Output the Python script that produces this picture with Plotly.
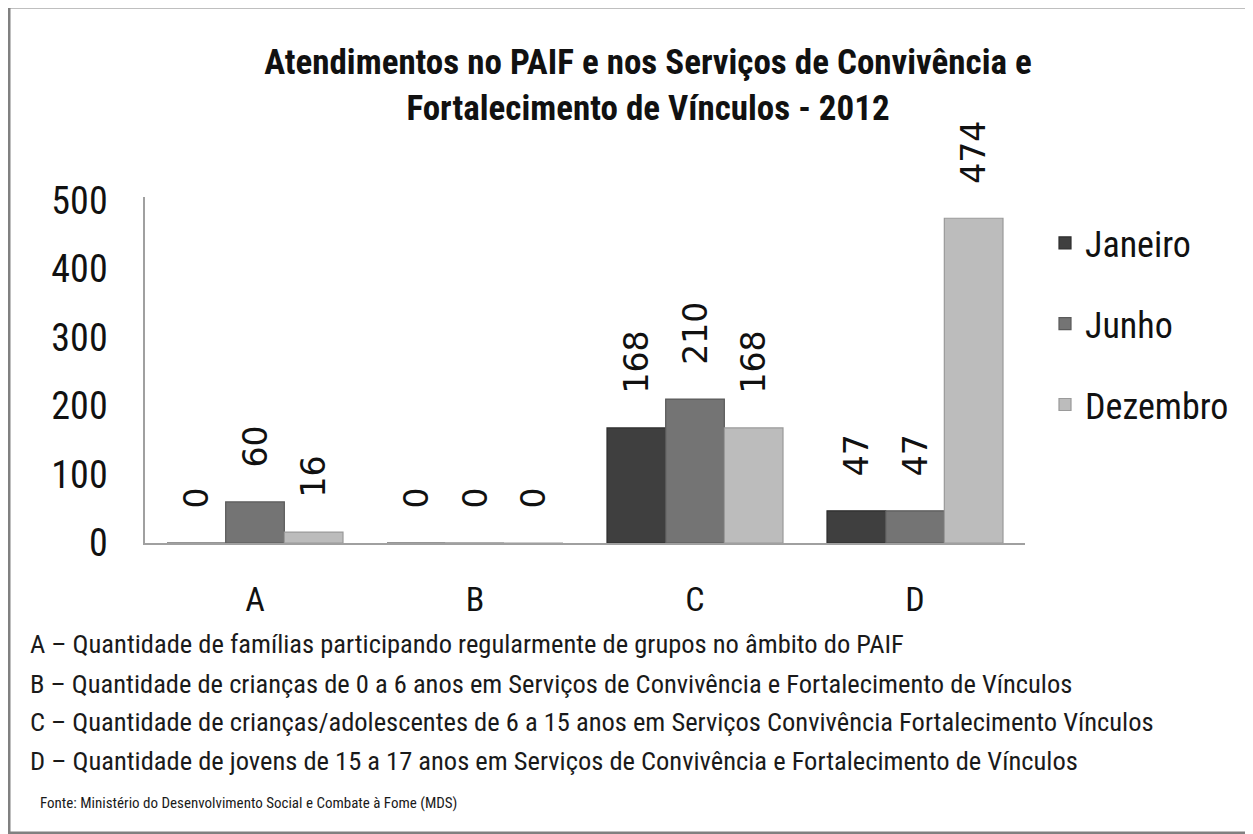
import plotly.graph_objects as go

categories = ["A", "B", "C", "D"]
series_names = ["Janeiro", "Junho", "Dezembro"]
janeiro = [0, 0, 168, 47]
junho = [60, 0, 210, 47]
dezembro = [16, 0, 168, 474]
y_ticks = [0, 100, 200, 300, 400, 500]

footnotes = [
    "A – Quantidade de famílias participando regularmente de grupos no âmbito do PAIF",
    "B – Quantidade de crianças de 0 a 6 anos em Serviços de Convivência e Fortalecimento de Vínculos",
    "C – Quantidade de crianças/adolescentes de 6 a 15 anos em Serviços Convivência Fortalecimento Vínculos",
    "D – Quantidade de jovens de 15 a 17 anos em Serviços de Convivência e Fortalecimento de Vínculos",
]
source = "Fonte: Ministério do Desenvolvimento Social e Combate à Fome (MDS)"

NARROW = "Liberation Sans Narrow, Roboto Condensed, Arial Narrow, sans-serif"
colors = ["#3f3f3f", "#747474", "#bcbcbc"]
outlines = ["#2e2e2e", "#5a5a5a", "#9a9a9a"]

fig = go.Figure()
for i, (name, vals) in enumerate(zip(series_names, [janeiro, junho, dezembro])):
    fig.add_trace(go.Bar(
        x=categories, y=vals, name=name,
        marker=dict(color=colors[i], line=dict(color=outlines[i], width=1.2)),
        text=["\u00a0\u00a0\u00a0" + str(v) for v in vals],
        textposition="outside", textangle=-90, constraintext="none",
        textfont=dict(family="DejaVu Sans", size=33, color="#111111"),
        cliponaxis=False,
        legendgroup=name,
    ))

OFF = 8  # page body margin
W, H = 1253 - OFF, 834 - OFF
L, R, T, B = 145 - OFF, 228, 197 - OFF, 291
pw, ph = W - L - R, H - T - B

def px_x(px):
    return (px - OFF - L) / pw

def px_y(py):
    return (H - B - (py - OFF)) / ph

annotations = []
for txt, py in zip(footnotes, [643, 683, 721, 760]):
    annotations.append(dict(text=txt, xref="paper", yref="paper", x=px_x(28), y=px_y(py),
                            xanchor="left", yanchor="middle", showarrow=False,
                            font=dict(family=NARROW, size=26.5, color="#1a1a1a")))
annotations.append(dict(text=source, xref="paper", yref="paper", x=px_x(38), y=px_y(803),
                        xanchor="left", yanchor="middle", showarrow=False,
                        font=dict(family=NARROW, size=15, color="#1a1a1a")))

fig.update_layout(
    width=W, height=H,
    margin=dict(l=L, r=R, t=T, b=B, autoexpand=False),
    paper_bgcolor="white", plot_bgcolor="white",
    title=dict(text="<b>Atendimentos no PAIF e nos Serviços de Convivência e<br>Fortalecimento de Vínculos - 2012</b>",
               x=(648 - OFF) / W, xanchor="center", y=1 - (74 - OFF) / H, yanchor="middle", yref="container",
               font=dict(family=NARROW, size=35, color="#111111")),
    barmode="group", bargap=0.2, bargroupgap=0,
    showlegend=True,
    legend=dict(x=px_x(1045), y=px_y(213), xanchor="left", yanchor="top",
                font=dict(family=NARROW, size=36, color="#111111"),
                tracegroupgap=31, bgcolor="rgba(0,0,0,0)"),
    xaxis=dict(showline=True, linecolor="#a0a0a0", linewidth=1.5, showgrid=False,
               ticks="", tickfont=dict(family=NARROW, size=34, color="#111111"),
               ticklabelstandoff=25),
    yaxis=dict(range=[0, 505], tickvals=y_ticks, showline=True, linecolor="#a0a0a0", linewidth=1.5,
               showgrid=False, zeroline=False, ticks="",
               tickfont=dict(family=NARROW, size=38, color="#111111"), ticklabelstandoff=28),
    annotations=annotations,
    shapes=[dict(type="rect", xref="paper", yref="paper",
                 x0=px_x(9), x1=px_x(1248), y0=px_y(833), y1=px_y(7),
                 line=dict(color="#808080", width=3), fillcolor="rgba(0,0,0,0)", layer="below")],
)

fig.write_html("out.html")
